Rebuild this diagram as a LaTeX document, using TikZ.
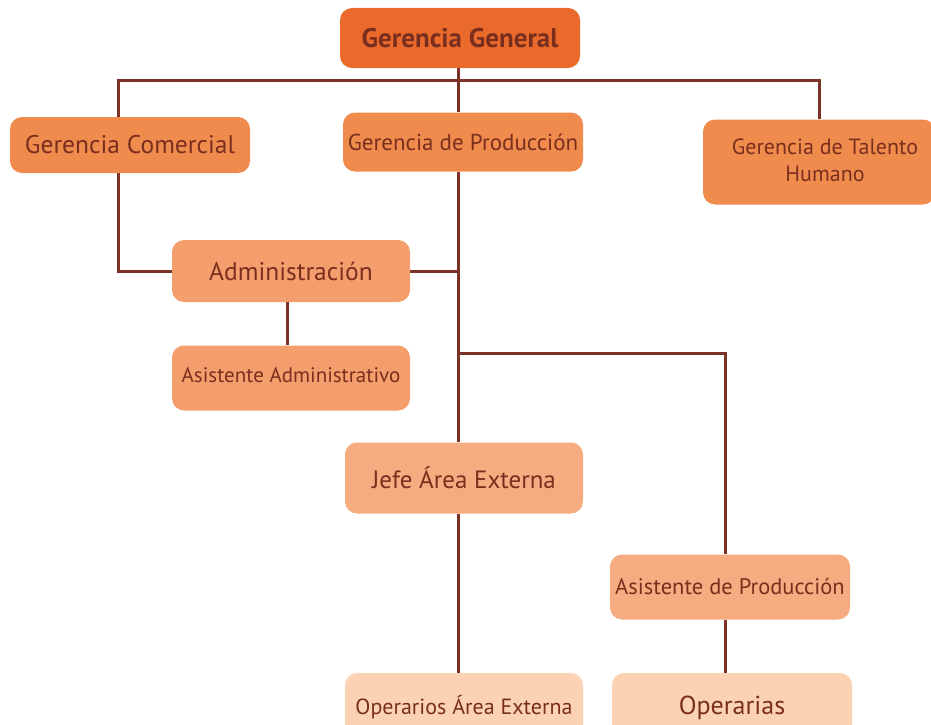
\documentclass[tikz,border=0pt]{standalone}
\usepackage{fontspec}
\setmainfont{PT Sans}
\usetikzlibrary{backgrounds}
\definecolor{cA}{HTML}{EA6A2C}
\definecolor{cB}{HTML}{F08B4E}
\definecolor{cC}{HTML}{F39E6C}
\definecolor{cD}{HTML}{F6AC80}
\definecolor{cE}{HTML}{FBD2B4}
\definecolor{txt}{HTML}{7A2E1E}
\definecolor{ln}{HTML}{7B3328}
\tikzset{
  box/.style={rectangle, rounded corners=12pt, inner sep=0pt, text=txt, align=center},
  conn/.style={draw=ln, line width=3pt},
}
\begin{document}
\begin{tikzpicture}[x=1pt,y=-1pt]
\clip (0,0) rectangle (931,725);
\node[box, fill=cA, font=\fontsize{27}{30}\selectfont\bfseries, minimum width=240pt, minimum height=60pt] (gg) at (460,38) {Gerencia General};
\node[box, fill=cB, font=\fontsize{25.5}{30}\selectfont, minimum width=240pt, minimum height=56pt] (gc) at (130,145) {Gerencia Comercial};
\node[box, fill=cB, font=\fontsize{23}{27}\selectfont, minimum width=240pt, minimum height=59pt] (gp) at (463,142) {Gerencia de Producción};
\node[box, fill=cB, font=\fontsize{22}{27}\selectfont, minimum width=232pt, minimum height=85pt] (gt) at (819,162) {\raisebox{3pt}{\hspace*{12pt}Gerencia de Talento}\\\raisebox{3pt}{\hspace*{12pt}Humano}};
\node[box, fill=cC, font=\fontsize{25.5}{30}\selectfont, minimum width=238pt, minimum height=62pt] (adm) at (291,271) {Administración};
\node[box, fill=cC, font=\fontsize{21}{26}\selectfont, minimum width=238pt, minimum height=65pt] (asa) at (291,378) {\raisebox{6pt}{Asistente Administrativo}};
\node[box, fill=cD, font=\fontsize{25}{30}\selectfont, minimum width=238pt, minimum height=71pt] (jefe) at (464,478) {Jefe Área Externa};
\node[box, fill=cD, font=\fontsize{22.5}{27}\selectfont, minimum width=240pt, minimum height=65pt] (ap) at (730,587) {Asistente de Producción};
\node[box, fill=cE, font=\fontsize{22}{27}\selectfont, minimum width=238pt, minimum height=70pt] (oae) at (464,708) {\raisebox{7pt}{Operarios Área Externa}};
\node[box, fill=cE, font=\fontsize{26}{30}\selectfont, minimum width=240pt, minimum height=70pt] (ops) at (732,708) {\raisebox{5pt}{Operarias}};
\coordinate (bar) at (458,80);
\coordinate (split) at (458,353);
\coordinate (apx) at (725,353);
\begin{scope}[on background layer]
\fill[white] (0,0) rectangle (931,725);
\draw[conn] (gg.south -| bar) -- (gp.north -| bar);
\draw[conn] ([xshift=-12pt]gc.north) |- (bar) -| (gt.north);
\draw[conn] ([xshift=-12pt]gc.south) |- (adm.west);
\draw[conn] (adm.east) -- (adm.east -| bar);
\draw[conn] (gp.south -| bar) -- (jefe.north -| bar);
\draw[conn] (split) -- (apx) -- (ap.north -| apx);
\draw[conn] ([xshift=-4pt]adm.south) -- ([xshift=-4pt]asa.north);
\draw[conn] (jefe.south -| bar) -- (oae.north -| bar);
\draw[conn] (ap.south -| apx) -- (ops.north -| apx);
\end{scope}
\end{tikzpicture}
\end{document}
